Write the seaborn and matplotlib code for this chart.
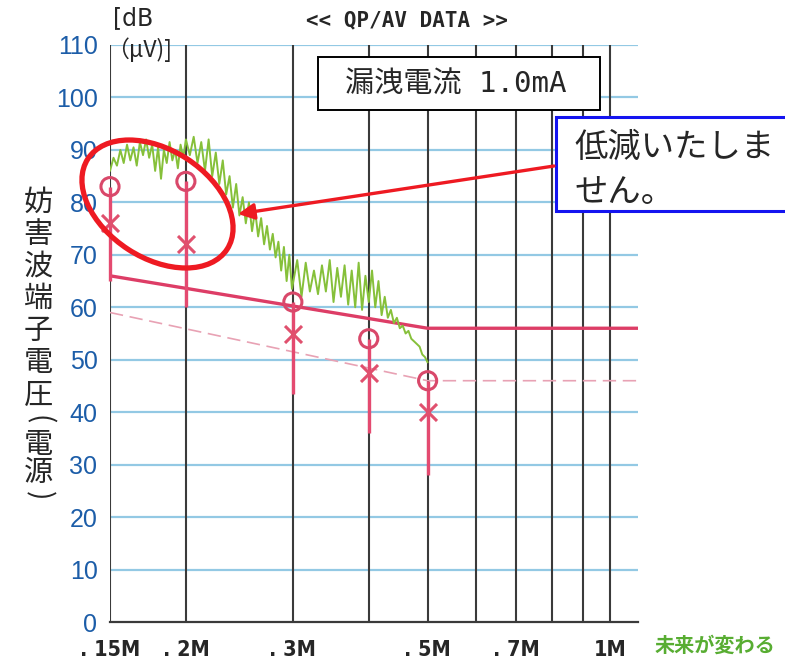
import matplotlib
matplotlib.use("Agg")
import matplotlib.pyplot as plt
import matplotlib.ticker as mticker
import numpy as np
import pandas as pd
import seaborn as sns
from matplotlib.patches import Rectangle, Ellipse, FancyArrowPatch

sns.set_style("white")
plt.rcParams['font.family'] = ['Noto Sans CJK JP', 'DejaVu Sans']

# ---- measurement data -------------------------------------------------------
# Swept peak trace (MHz, dBuV)
scan_freq = [
    0.150, 0.152, 0.154, 0.156, 0.158, 0.160, 0.162, 0.164, 0.166, 0.168,
    0.170, 0.172, 0.174, 0.176, 0.178, 0.180, 0.182, 0.184, 0.186, 0.188,
    0.190, 0.192, 0.194, 0.196, 0.198, 0.200,
    0.203, 0.206, 0.209, 0.212, 0.215, 0.218, 0.221, 0.224, 0.227, 0.230,
    0.233, 0.236, 0.239, 0.242, 0.245, 0.248, 0.251, 0.254, 0.257, 0.260,
    0.263, 0.266, 0.269, 0.272, 0.275, 0.278, 0.281, 0.284, 0.287, 0.290,
    0.293, 0.296, 0.299,
    0.305, 0.310, 0.315, 0.320, 0.325, 0.330, 0.335, 0.340, 0.345, 0.350,
    0.355, 0.360, 0.365, 0.370, 0.375, 0.380, 0.385, 0.390, 0.395, 0.400,
    0.405, 0.410, 0.415, 0.420, 0.425, 0.430, 0.435, 0.440, 0.445, 0.450,
    0.455, 0.460, 0.465, 0.470, 0.475, 0.480, 0.485, 0.490, 0.495, 0.500,
]
scan_level = [
    86.0, 88.5, 87.0, 90.0, 87.5, 91.0, 88.0, 90.5, 87.0, 91.5,
    89.0, 92.0, 88.5, 91.0, 86.0, 90.5, 84.5, 90.0, 87.5, 91.5,
    88.0, 90.0, 86.5, 91.0, 88.5, 92.0,
    89.0, 92.5, 87.5, 91.5, 86.0, 92.0, 85.0, 89.5, 83.5, 88.0,
    81.5, 85.0, 79.0, 83.5, 77.5, 81.0, 76.0, 80.0, 74.5, 78.5,
    73.5, 77.0, 72.0, 75.5, 71.0, 74.0, 69.5, 72.5, 67.0, 71.5,
    65.0, 70.0, 63.5,
    69.0, 62.0, 68.5, 63.0, 67.0, 62.5, 68.0, 63.0, 69.0, 61.0,
    67.5, 62.0, 68.0, 60.5, 67.0, 60.0, 68.5, 59.5, 66.0, 61.0,
    67.0, 60.0, 65.0, 58.5, 62.0, 58.0, 59.5, 57.0, 58.0, 56.0,
    56.5, 55.0, 55.5, 54.0, 53.5, 53.0, 52.5, 51.0, 50.5, 49.5,
]

# Limit lines
limit_freq = [0.15, 0.50, 1.11]
qp_limit = [66, 56, 56]
av_limit = [59, 46, 46]

# Final measurement points
peak_freq = [0.15, 0.20, 0.30, 0.40, 0.50]
qp_level = [83, 84, 61, 54, 46]
av_level = [76, 72, 55, 47.5, 40]
stem_floor = [65, 60, 43.5, 36, 28]

# Axis ticks / grid
y_ticks = [0, 10, 20, 30, 40, 50, 60, 70, 80, 90, 100, 110]
x_ticks = [0.15, 0.2, 0.3, 0.5, 0.7, 1.0]
x_tick_labels = ['. 15M', '. 2M', '. 3M', '. 5M', '. 7M', '1M']
x_grid = [0.15, 0.2, 0.3, 0.4, 0.5, 0.6, 0.7, 0.8, 0.9, 1.0]

scan_df = pd.DataFrame({'freq': scan_freq, 'level': scan_level})
limit_df = pd.DataFrame({'freq': limit_freq, 'qp': qp_limit, 'av': av_limit})
peak_df = pd.DataFrame({'freq': peak_freq, 'qp': qp_level, 'av': av_level,
                        'floor': stem_floor})

# ---- figure -----------------------------------------------------------------
W, H = 785, 662
fig = plt.figure(figsize=(W / 100, H / 100), dpi=100)
ax = fig.add_axes([110 / W, 40 / H, 528 / W, 577 / H])


def fpos(x, y):
    """pixel position (from top-left) -> figure fraction"""
    return x / W, 1 - y / H


ax.set_xscale('log')
ax.set_xlim(0.15, 1.11)
ax.set_ylim(0, 110)

# grid
for yv in y_ticks[1:]:
    ax.axhline(yv, color='#93c9e4', lw=1.6, zorder=1)
ax.vlines(x_grid, 0, 110, color='#3a3a3a', lw=1.5, zorder=2)

# limit lines
sns.lineplot(data=limit_df, x='freq', y='qp', ax=ax, color='#dd3d66', lw=2.4,
             estimator=None, sort=False, zorder=3)
sns.lineplot(data=limit_df, x='freq', y='av', ax=ax, color='#e8a2b4', lw=1.2,
             estimator=None, sort=False, zorder=3, linestyle=(0, (8, 4)))

# scan trace
sns.lineplot(data=scan_df, x='freq', y='level', ax=ax, color='#86c03a', lw=1.4,
             estimator=None, sort=False, zorder=4)

# stems and markers
ax.vlines(peak_df['freq'], peak_df['floor'], peak_df['qp'], color='#e44a70',
          lw=2.4, zorder=5, clip_on=False)
sns.scatterplot(data=peak_df, x='freq', y='qp', ax=ax, marker='o', s=170,
                facecolor='none', edgecolor='#d9486a', linewidth=2.2,
                zorder=6, clip_on=False)
sns.scatterplot(data=peak_df, x='freq', y='av', ax=ax, marker='x', s=150,
                color='#e0506e', linewidth=2.2, zorder=6, clip_on=False)

# axes styling
for side in ['top', 'right', 'left']:
    ax.spines[side].set_visible(False)
ax.spines['bottom'].set_color('#3a3a3a')
ax.spines['bottom'].set_linewidth(1.6)
ax.set_yticks(y_ticks)
ax.set_yticklabels([str(v) for v in y_ticks], color='#1c5da8', fontsize=18,
                   family=['Liberation Sans', 'DejaVu Sans'])
ax.set_xticks(x_ticks)
ax.xaxis.set_minor_locator(mticker.NullLocator())
ax.set_xticklabels(x_tick_labels, fontsize=15.5, fontweight='bold',
                   family=['DejaVu Sans'], fontstretch='condensed')
ax.tick_params(axis='y', length=0, pad=9)
ax.tick_params(axis='x', length=0, pad=13)
ax.set_xlabel('')
ax.set_ylabel('')

# ---- texts ------------------------------------------------------------------
fig.text(*fpos(407, 20), '<< QP/AV DATA >>', ha='center', va='center',
         fontsize=15, fontweight='bold', family=['DejaVu Sans Mono'])
fig.text(*fpos(113, 18), '[dB', ha='left', va='center', fontsize=17,
         family=['DejaVu Sans'])
fig.text(*fpos(106, 50), '（μV)]', ha='left', va='center', fontsize=16.5,
         family=['Noto Sans CJK JP', 'DejaVu Sans'])

# vertical axis title, one glyph per line; parentheses turned for vertical text
ylabel_chars = ['妨', '害', '波', '端', '子', '電', '圧', '(', '電', '源', ')']
ylabel_ypix = [203, 235, 267, 299, 331, 363, 396, 420, 445, 473, 496]
for ch, yp in zip(ylabel_chars, ylabel_ypix):
    is_paren = ch in '()'
    fig.text(*fpos(38, yp), ch, ha='center', va='center',
             fontsize=20 if is_paren else 21,
             rotation=-90 if is_paren else 0, rotation_mode='anchor',
             family=['Noto Sans CJK JP', 'DejaVu Sans'])

# leakage-current box
fig.add_artist(Rectangle(fpos(318, 110), 282 / W, 53 / H,
                         transform=fig.transFigure, facecolor='white',
                         edgecolor='black', lw=1.4, zorder=5))
fig.text(*fpos(456, 85), '漏洩電流 1.0mA', ha='center', va='center',
         fontsize=21, family=['DejaVu Sans Mono', 'Noto Sans CJK JP'],
         zorder=6)

# callout box
fig.add_artist(Rectangle(fpos(556, 211), 240 / W, 94 / H,
                         transform=fig.transFigure, facecolor='white',
                         edgecolor='#1414f0', lw=2.2, zorder=5))
fig.text(*fpos(574, 147), '低減いたしま', ha='left', va='center', fontsize=24,
         family=['Noto Sans CJK JP'], zorder=6)
fig.text(*fpos(574, 192), 'せん。', ha='left', va='center', fontsize=24,
         family=['Noto Sans CJK JP'], zorder=6)

# highlight ellipse and arrow
fig.add_artist(Ellipse((157.5 / 100, (H - 204) / 100), 1.66, 1.08, angle=-33,
                       transform=fig.dpi_scale_trans, facecolor='none',
                       edgecolor='#ee1a22', lw=3.8, zorder=7))
fig.add_artist(FancyArrowPatch((554 / 100, (H - 166) / 100),
                               (238 / 100, (H - 214) / 100),
                               transform=fig.dpi_scale_trans,
                               arrowstyle='-|>', mutation_scale=24,
                               color='#ee1a22', lw=2.4, zorder=7,
                               shrinkA=0, shrinkB=0))

fig.text(*fpos(655, 645), '未来が変わる', ha='left', va='center', fontsize=14.5,
         fontweight='bold', color='#58ad32', family=['Noto Sans CJK JP'])

fig.savefig('out.png', dpi=100)
